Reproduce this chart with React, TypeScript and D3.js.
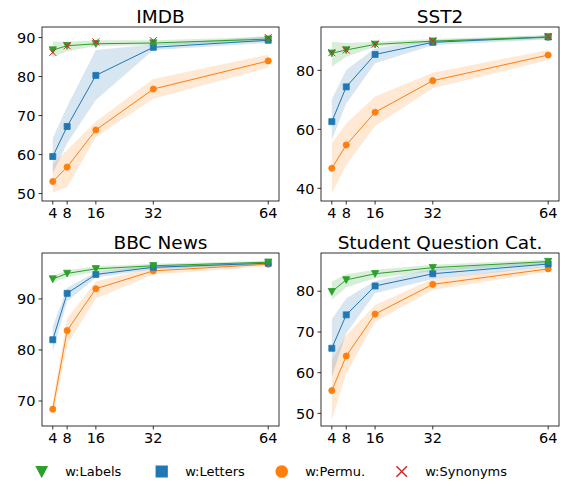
import React from 'react';
import * as d3 from 'd3';

// shots on the x axis
const shots = [4, 8, 16, 32, 64];

// IMDB
const imdbLabels = [86.8, 87.9, 88.4, 88.6, 89.6];
const imdbLabelsLo = [85.0, 86.5, 87.8, 88.0, 89.0];
const imdbLabelsHi = [89.0, 88.9, 89.3, 89.3, 90.2];
const imdbLetters = [59.5, 67.2, 80.3, 87.5, 89.3];
const imdbLettersLo = [55.2, 62.9, 74.0, 86.8, 88.6];
const imdbLettersHi = [64.2, 72.3, 86.8, 88.2, 90.4];
const imdbPermu = [53.1, 56.8, 66.3, 76.8, 84.0];
const imdbPermuLo = [50.3, 51.6, 64.5, 74.3, 82.3];
const imdbPermuHi = [57.4, 61.2, 68.5, 79.4, 85.6];
const imdbSynonyms = [86.2, 87.9, 88.9, 89.2, 90.0];

// SST2
const sstLabels = [85.8, 86.9, 88.8, 89.9, 91.3];
const sstLabelsLo = [81.2, 84.6, 88.0, 89.4, 90.7];
const sstLabelsHi = [89.7, 89.3, 89.7, 90.6, 91.9];
const sstLetters = [62.6, 74.4, 85.4, 89.5, 91.3];
const sstLettersLo = [56.4, 68.8, 82.4, 88.5, 90.5];
const sstLettersHi = [70.2, 80.1, 87.5, 90.2, 91.9];
const sstPermu = [46.8, 54.7, 65.8, 76.5, 85.2];
const sstPermuLo = [38.3, 47.9, 61.1, 73.9, 83.5];
const sstPermuHi = [55.3, 62.0, 71.1, 79.2, 86.9];
const sstSynonyms = [86.0, 86.9, 88.9, 90.0, 91.5];

// BBC News
const bbcLabels = [93.9, 95.0, 95.9, 96.5, 97.2];
const bbcLabelsLo = [93.2, 94.3, 95.3, 96.0, 96.8];
const bbcLabelsHi = [94.5, 95.6, 96.4, 96.9, 97.5];
const bbcLetters = [82.0, 91.1, 94.8, 96.2, 97.0];
const bbcLettersLo = [79.7, 89.5, 94.2, 95.8, 96.7];
const bbcLettersHi = [84.6, 92.2, 95.3, 96.6, 97.3];
const bbcPermu = [68.4, 83.8, 92.0, 95.5, 96.8];
const bbcPermuLo = [66.9, 81.0, 90.1, 94.8, 96.4];
const bbcPermuHi = [69.9, 86.2, 93.4, 96.2, 97.2];

// Student Question Categories
const sqLabels = [79.9, 82.8, 84.3, 85.8, 87.3];
const sqLabelsLo = [77.9, 81.0, 83.2, 85.0, 86.7];
const sqLabelsHi = [82.4, 84.2, 85.3, 86.5, 87.8];
const sqLetters = [66.0, 74.2, 81.3, 84.3, 86.7];
const sqLettersLo = [59.0, 69.7, 79.5, 83.0, 86.0];
const sqLettersHi = [73.1, 78.3, 82.5, 85.5, 87.3];
const sqPermu = [55.6, 64.1, 74.4, 81.7, 85.5];
const sqPermuLo = [48.4, 59.8, 72.5, 80.3, 84.8];
const sqPermuHi = [63.1, 69.2, 76.6, 83.0, 86.2];

const legendNames = ['w:Labels', 'w:Letters', 'w:Permu.', 'w:Synonyms'];

const GREEN = '#2ca02c';
const BLUE = '#1f77b4';
const ORANGE = '#ff7f0e';
const RED = '#d62728';
const FONT = 'DejaVu Sans, sans-serif';

type Series = { mean: number[]; lo?: number[]; hi?: number[]; color: string; marker: string; line: boolean };

const markerPath = (kind: string) => {
  if (kind === 'tri') return 'M-3.6,-3.2L3.6,-3.2L0,3.6Z';
  if (kind === 'sq') return 'M-3,-3H3V3H-3Z';
  if (kind === 'circ') return d3.symbol(d3.symbolCircle, 30)() as string;
  return 'M-3.5,-3.5L3.5,3.5M-3.5,3.5L3.5,-3.5';
};

const Marker = ({ kind, color, x, y }: { kind: string; color: string; x: number; y: number }) => (
  <path
    d={markerPath(kind)}
    transform={`translate(${x},${y})`}
    fill={kind === 'x' ? 'none' : color}
    stroke={color}
    strokeWidth={kind === 'x' ? 1 : 0.8}
  />
);

const Panel = ({ left, top, width, height, title, yDomain, yTicks, series }: {
  left: number; top: number; width: number; height: number; title: string;
  yDomain: [number, number]; yTicks: number[]; series: Series[];
}) => {
  const x = d3.scaleLinear().domain([1, 67]).range([0, width]);
  const y = d3.scaleLinear().domain(yDomain).range([height, 0]);
  const line = d3.line<number>().x((_, i) => x(shots[i])).y(d => y(d));

  return (
    <g transform={`translate(${left},${top})`}>
      <text x={width / 2} y={-4} textAnchor="middle" fontSize={18.5} fontFamily={FONT} fill="#000">{title}</text>
      {series.map((s, si) => s.lo && s.hi ? (
        <path key={'b' + si}
          d={d3.area<number>()
            .x((_, i) => x(shots[i]))
            .y0((_, i) => y(s.lo![i]))
            .y1((_, i) => y(s.hi![i]))(s.mean) as string}
          fill={s.color} fillOpacity={0.18} stroke="none" />
      ) : null)}
      {series.map((s, si) => (
        <g key={'s' + si}>
          {s.line && <path d={line(s.mean) as string} fill="none" stroke={s.color} strokeWidth={1} />}
          {s.mean.map((v, i) => (
            <Marker key={i} kind={s.marker} color={s.color} x={x(shots[i])} y={y(v)} />
          ))}
        </g>
      ))}
      <rect x={0} y={0} width={width} height={height} fill="none" stroke="#000" strokeWidth={0.8} />
      {shots.map(t => (
        <g key={'x' + t} transform={`translate(${x(t)},${height})`}>
          <line y2={3.5} stroke="#000" strokeWidth={0.8} />
          <text y={17.3} textAnchor="middle" fontSize={14.5} fontFamily={FONT} fill="#000">{t}</text>
        </g>
      ))}
      {yTicks.map(t => (
        <g key={'y' + t} transform={`translate(0,${y(t)})`}>
          <line x2={-3.5} stroke="#000" strokeWidth={0.8} />
          <text x={-6.5} dy="0.36em" textAnchor="end" fontSize={14.5} fontFamily={FONT} fill="#000">{t}</text>
        </g>
      ))}
    </g>
  );
};

const App = () => {
  const W = 237;
  const H = 174;
  const legendKinds = ['tri', 'sq', 'circ', 'x'];
  const legendColors = [GREEN, BLUE, ORANGE, RED];
  const legendScale = [1.5, 1.8, 1.8, 1.5];
  const legendX = d3.scalePoint<number>().domain([0, 1, 2, 3]).range([41.7, 401.7]);
  return (
    <svg width={562} height={482} style={{ position: 'absolute', left: 0, top: 0, background: '#fff' }}>
      <rect width={562} height={482} fill="#fff" />
      <Panel left={42} top={27} width={W} height={H} title="IMDB" yDomain={[48.1, 92.7]} yTicks={[50, 60, 70, 80, 90]}
        series={[
          { mean: imdbPermu, lo: imdbPermuLo, hi: imdbPermuHi, color: ORANGE, marker: 'circ', line: true },
          { mean: imdbLetters, lo: imdbLettersLo, hi: imdbLettersHi, color: BLUE, marker: 'sq', line: true },
          { mean: imdbLabels, lo: imdbLabelsLo, hi: imdbLabelsHi, color: GREEN, marker: 'tri', line: true },
          { mean: imdbSynonyms, color: RED, marker: 'x', line: false },
        ]} />
      <Panel left={321} top={27} width={W + 1} height={H} title="SST2" yDomain={[35.7, 94.7]} yTicks={[40, 60, 80]}
        series={[
          { mean: sstPermu, lo: sstPermuLo, hi: sstPermuHi, color: ORANGE, marker: 'circ', line: true },
          { mean: sstLetters, lo: sstLettersLo, hi: sstLettersHi, color: BLUE, marker: 'sq', line: true },
          { mean: sstLabels, lo: sstLabelsLo, hi: sstLabelsHi, color: GREEN, marker: 'tri', line: true },
          { mean: sstSynonyms, color: RED, marker: 'x', line: false },
        ]} />
      <Panel left={42} top={253} width={W} height={173} title="BBC News" yDomain={[65.1, 99.0]} yTicks={[70, 80, 90]}
        series={[
          { mean: bbcPermu, lo: bbcPermuLo, hi: bbcPermuHi, color: ORANGE, marker: 'circ', line: true },
          { mean: bbcLetters, lo: bbcLettersLo, hi: bbcLettersHi, color: BLUE, marker: 'sq', line: true },
          { mean: bbcLabels, lo: bbcLabelsLo, hi: bbcLabelsHi, color: GREEN, marker: 'tri', line: true },
        ]} />
      <Panel left={321} top={253} width={W + 1} height={173} title="Student Question Cat." yDomain={[46.9, 89.4]} yTicks={[50, 60, 70, 80]}
        series={[
          { mean: sqPermu, lo: sqPermuLo, hi: sqPermuHi, color: ORANGE, marker: 'circ', line: true },
          { mean: sqLetters, lo: sqLettersLo, hi: sqLettersHi, color: BLUE, marker: 'sq', line: true },
          { mean: sqLabels, lo: sqLabelsLo, hi: sqLabelsHi, color: GREEN, marker: 'tri', line: true },
        ]} />
      {legendNames.map((name, i) => (
        <g key={name} transform={`translate(${legendX(i)},471.5)`}>
          <g transform={`scale(${legendScale[i]})`}>
            <Marker kind={legendKinds[i]} color={legendColors[i]} x={0} y={0} />
          </g>
          <text x={23.5} dy="0.36em" fontSize={13} fontFamily={FONT} fill="#000">{name}</text>
        </g>
      ))}
    </svg>
  );
};

export default App;
